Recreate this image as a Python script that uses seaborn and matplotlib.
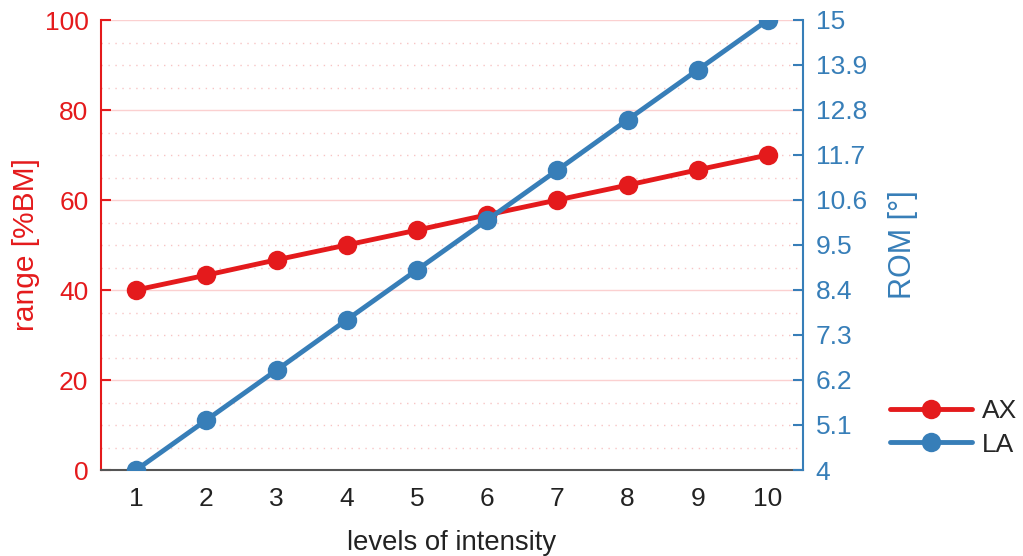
import matplotlib
matplotlib.use("Agg")
import matplotlib.pyplot as plt
import seaborn as sns
import pandas as pd
import numpy as np
from matplotlib.ticker import MultipleLocator, FixedLocator

sns.set_theme(style="white")
plt.rcParams['font.family'] = ['Liberation Sans', 'DejaVu Sans']

levels = [1, 2, 3, 4, 5, 6, 7, 8, 9, 10]
ax_range = [40.0, 43.3, 46.7, 50.0, 53.3, 56.7, 60.0, 63.3, 66.7, 70.0]
la_rom = [4.0, 5.22, 6.44, 7.67, 8.89, 10.11, 11.33, 12.56, 13.78, 15.0]
right_ticks = [4, 5.1, 6.2, 7.3, 8.4, 9.5, 10.6, 11.7, 12.8, 13.9, 15]
right_ticklabels = ["4", "5.1", "6.2", "7.3", "8.4", "9.5", "10.6", "11.7", "12.8", "13.9", "15"]

RED = "#e41a1c"
BLUE = "#377eb8"

df = pd.DataFrame({"level": levels, "AX": ax_range, "LA": la_rom})

fig = plt.figure(figsize=(10.23, 5.56), dpi=100)
ax = fig.add_axes([101/1023, 1-470/556, (803-101)/1023, (470-20)/556])
ax2 = ax.twinx()

sns.lineplot(data=df, x="level", y="AX", ax=ax, color=RED, lw=3.5, marker="o",
             markersize=14, markeredgewidth=0, label="AX", legend=False, zorder=5)
sns.lineplot(data=df, x="level", y="LA", ax=ax2, color=BLUE, lw=3.5, marker="o",
             markersize=14, markeredgewidth=0, label="LA", legend=False, zorder=5)

ax.set_xlim(0.5, 10.5)
ax.set_ylim(0, 100)
ax2.set_ylim(4, 15)

ax.set_xticks(levels)
ax.yaxis.set_major_locator(MultipleLocator(20))
ax.yaxis.set_minor_locator(MultipleLocator(5))
ax2.yaxis.set_major_locator(FixedLocator(right_ticks))
ax2.set_yticklabels(right_ticklabels)

ax.grid(True, which="major", axis="y", color="#fbd0d0", lw=1.0, ls="-")
ax.grid(True, which="minor", axis="y", color="#f8c4c4", lw=1.0, ls=(0, (1, 4)))
ax.grid(False, axis="x")
ax2.grid(False)

for a in (ax, ax2):
    a.spines["top"].set_visible(False)
ax.spines["right"].set_visible(False)
ax2.spines["left"].set_visible(False)
ax2.spines["bottom"].set_visible(False)
ax.spines["left"].set_color(RED)
ax.spines["left"].set_linewidth(1.5)
ax2.spines["right"].set_color(BLUE)
ax2.spines["right"].set_linewidth(1.5)
ax.spines["bottom"].set_color("#555555")
ax.spines["bottom"].set_linewidth(1.5)

fs = 19
ax.tick_params(axis="x", direction="in", length=7, width=1.2, colors="#555555",
               labelcolor="#222222", labelsize=fs, pad=12)
ax.tick_params(axis="y", which="major", direction="in", length=7, width=1.5, colors=RED,
               labelsize=fs, pad=9)
ax.tick_params(axis="y", which="minor", length=0)
ax2.tick_params(axis="y", direction="in", length=7, width=1.5, colors=BLUE,
                labelsize=fs, pad=9)

ax.set_xlabel("levels of intensity", fontsize=19.8, color="#222222", labelpad=14)
ax.set_ylabel("range [%BM]", fontsize=21.5, color=RED, labelpad=3)
ax2.set_ylabel("ROM [°]", fontsize=22, color=BLUE, labelpad=15)

h1, l1 = ax.get_legend_handles_labels()
h2, l2 = ax2.get_legend_handles_labels()
fig.legend(h1 + h2, l1 + l2, loc="center left", bbox_to_anchor=(866/1023, 1-428/556),
           frameon=False, fontsize=fs, handlelength=3.1, labelspacing=0.35,
           handletextpad=0.4)

fig.savefig("out.png", dpi=100)
